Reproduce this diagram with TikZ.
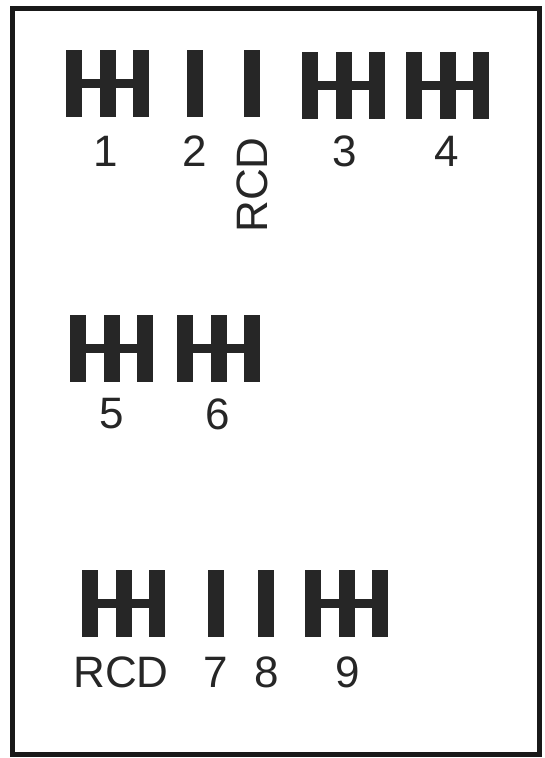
\documentclass[tikz,border=0pt]{standalone}
\usepackage{fontspec}
\setmainfont{Liberation Sans}
\usepackage{tikz}

\tikzset{
	gearbar/.style={fill=black!85},
	lbl/.style={font=\fontsize{44}{44}\selectfont, inner sep=0pt, text=black!85}
}

\begin{document}
\begin{tikzpicture}[x=1pt, y=-1pt]
		
		% page size
		\useasboundingbox (0,0) rectangle (544,758);
		
		% outer frame
		\draw[line width=5pt, black!90] (12.5,8) rectangle (539,754);
		
		% triple bars with cross link
		\foreach \gx/\gy in {66/50, 302/52, 406/52, 70/315, 177/315, 82/570, 305/570}{
			\foreach \k in {0,1,2}{
				\fill[gearbar] ({\gx+\k*33.5},\gy) rectangle ++(16,67);
			}
			\fill[gearbar] (\gx,{\gy+29}) rectangle ++(83,9);
		}
		
		% single bars
		\foreach \gx/\gy in {187/50, 244/50, 208/570, 258/570}{
			\fill[gearbar] (\gx,\gy) rectangle ++(16,67);
		}
		
		% top row labels
		\node[lbl] (n1) at (106,151) {1};
		\node[lbl] (n2) at (195,151) {2};
		\node[lbl, rotate=90] (rcdtop) at (252,185) {RCD};
		\node[lbl] (n3) at (345,151) {3};
		\node[lbl] (n4) at (447,151) {4};
		
		% middle row labels
		\node[lbl] (n5) at (112,414) {5};
		\node[lbl] (n6) at (218,414) {6};
		
		% bottom row labels
		\node[lbl] (rcdbot) at (121,672) {RCD};
		\node[lbl] (n7) at (216,672) {7};
		\node[lbl] (n8) at (267,672) {8};
		\node[lbl] (n9) at (348,672) {9};
		
	\end{tikzpicture}
\end{document}
